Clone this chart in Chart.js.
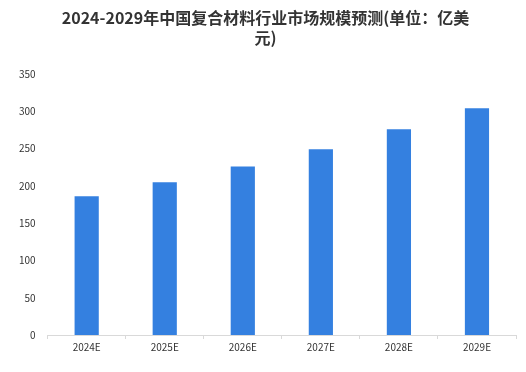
<!DOCTYPE html>
<html>
<head>
<meta charset="utf-8">
<script src="https://cdn.jsdelivr.net/npm/chart.js@4"></script>
<style>
  html, body { margin: 0; padding: 0; background: #fff; }
  #wrap { width: 526px; height: 372px; }
</style>
</head>
<body>
<div id="wrap"><canvas id="marketChart"></canvas></div>
<script>
const years = ['2024E', '2025E', '2026E', '2027E', '2028E', '2029E'];
const marketSize = [186, 205, 226, 249, 276, 304]; // 亿美元
const titleLines = ['2024-2029年中国复合材料行业市场规模预测(单位：亿美', '元)'];

document.addEventListener('DOMContentLoaded', function () {
    const ctx = document.getElementById('marketChart').getContext('2d');

    const marketChart = new Chart(ctx, {
        type: 'bar',
        data: {
            labels: years,
            datasets: [{
                label: '市场规模',
                data: marketSize,
                backgroundColor: '#3480e0',
                categoryPercentage: 1.0,
                barPercentage: 0.31
            }]
        },
        options: {
            responsive: true,
            maintainAspectRatio: false,
            animation: false,
            layout: {
                padding: { left: 15, right: 10, top: 4, bottom: 17 }
            },
            plugins: {
                legend: { display: false },
                tooltip: { enabled: false },
                title: {
                    display: true,
                    text: titleLines,
                    color: '#333333',
                    font: { family: '"Noto Sans CJK SC", sans-serif', size: 16, weight: 'bold', lineHeight: 1.25 },
                    padding: { top: 4, bottom: 26 }
                }
            },
            scales: {
                x: {
                    grid: {
                        display: true,
                        offset: true,
                        drawOnChartArea: false,
                        drawTicks: true,
                        tickLength: 4,
                        color: '#d9d9d9'
                    },
                    border: { display: true, color: '#d9d9d9' },
                    ticks: {
                        color: '#333333',
                        font: { family: '"Noto Sans CJK SC", sans-serif', size: 10 },
                        padding: 2
                    }
                },
                y: {
                    min: 0,
                    max: 350,
                    grid: { display: false },
                    border: { display: false },
                    ticks: {
                        stepSize: 50,
                        color: '#333333',
                        font: { family: '"Noto Sans CJK SC", sans-serif', size: 10 },
                        padding: 4
                    }
                }
            }
        }
    });
});
</script>
</body>
</html>
